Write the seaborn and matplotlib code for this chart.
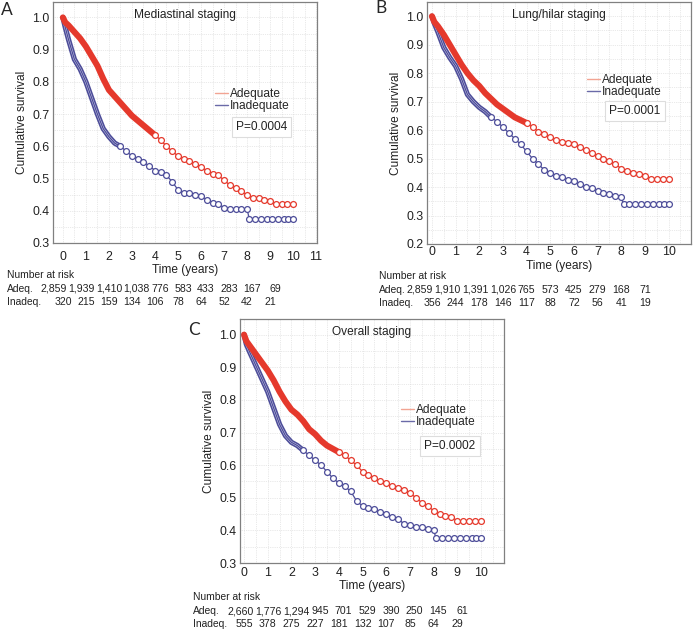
"""
Kaplan-Meier survival by adequacy of staging (mediastinal, lung/hilar, overall).
Values read off the published figure.
"""

import pandas as pd
import matplotlib
matplotlib.use('Agg')
import matplotlib.pyplot as plt
import matplotlib.transforms as mtransforms
from matplotlib.lines import Line2D
from matplotlib.ticker import MultipleLocator, FormatStrFormatter
import seaborn as sns

# --- data -----------------------------------------------------------------
TIME_ADEQ = [0, 0.1, 0.25, 0.5, 0.75, 1.0, 1.25, 1.5, 1.75, 2.0, 2.25, 2.5, 2.75,
             3.0, 3.25, 3.5, 3.75, 4.0, 4.25, 4.5, 4.75, 5.0, 5.25, 5.5, 5.75,
             6.0, 6.25, 6.5, 6.75, 7.0, 7.25, 7.5, 7.75, 8.0, 8.25, 8.5, 8.75,
             9.0, 9.25, 9.5, 9.75, 10.0]
TIME_INADEQ = [0, 0.1, 0.25, 0.5, 0.75, 1.0, 1.25, 1.5, 1.75, 2.0, 2.25, 2.5, 2.75,
               3.0, 3.25, 3.5, 3.75, 4.0, 4.25, 4.5, 4.75, 5.0, 5.25, 5.5, 5.75,
               6.0, 6.25, 6.5, 6.75, 7.0, 7.25, 7.5, 7.75, 8.0,
               8.1, 8.35, 8.6, 8.85, 9.1, 9.35, 9.6, 9.8, 10.0]

MED_ADEQ = [1.0, 0.985, 0.975, 0.955, 0.935, 0.91, 0.88, 0.85, 0.81, 0.775, 0.755,
            0.735, 0.715, 0.695, 0.68, 0.665, 0.65, 0.635, 0.62, 0.60, 0.585, 0.57,
            0.56, 0.555, 0.545, 0.535, 0.525, 0.515, 0.51, 0.495, 0.48, 0.47, 0.46,
            0.45, 0.44, 0.44, 0.435, 0.43, 0.42, 0.42, 0.42, 0.42]
MED_INADEQ = [1.0, 0.97, 0.93, 0.87, 0.84, 0.80, 0.75, 0.70, 0.655, 0.63, 0.61, 0.60,
              0.585, 0.57, 0.56, 0.55, 0.54, 0.525, 0.52, 0.51, 0.49, 0.465, 0.455,
              0.455, 0.45, 0.445, 0.435, 0.425, 0.42, 0.41, 0.405, 0.405, 0.405, 0.405,
              0.375, 0.375, 0.375, 0.375, 0.375, 0.375, 0.375, 0.375, 0.375]

LUNG_ADEQ = [1.0, 0.98, 0.965, 0.935, 0.90, 0.865, 0.83, 0.80, 0.775, 0.755, 0.73,
             0.71, 0.69, 0.675, 0.66, 0.645, 0.635, 0.625, 0.61, 0.595, 0.585, 0.575,
             0.565, 0.56, 0.555, 0.55, 0.54, 0.53, 0.52, 0.51, 0.50, 0.49, 0.48,
             0.465, 0.455, 0.45, 0.445, 0.44, 0.43, 0.43, 0.43, 0.43]
LUNG_INADEQ = [1.0, 0.975, 0.945, 0.89, 0.855, 0.825, 0.78, 0.725, 0.70, 0.68, 0.665,
               0.645, 0.63, 0.61, 0.59, 0.57, 0.55, 0.525, 0.50, 0.48, 0.46, 0.45,
               0.44, 0.435, 0.425, 0.42, 0.41, 0.40, 0.395, 0.385, 0.38, 0.375, 0.37,
               0.365, 0.34, 0.34, 0.34, 0.34, 0.34, 0.34, 0.34, 0.34, 0.34]

ALL_ADEQ = [1.0, 0.98, 0.965, 0.94, 0.915, 0.89, 0.86, 0.825, 0.795, 0.77, 0.755,
            0.735, 0.71, 0.695, 0.675, 0.66, 0.65, 0.64, 0.63, 0.615, 0.60, 0.58,
            0.57, 0.56, 0.55, 0.545, 0.535, 0.53, 0.525, 0.515, 0.50, 0.485, 0.475,
            0.46, 0.45, 0.445, 0.44, 0.43, 0.43, 0.43, 0.43, 0.43]
ALL_INADEQ = [1.0, 0.97, 0.945, 0.905, 0.865, 0.825, 0.775, 0.725, 0.69, 0.67, 0.66,
              0.645, 0.63, 0.615, 0.60, 0.58, 0.56, 0.545, 0.535, 0.52, 0.49, 0.475,
              0.47, 0.465, 0.455, 0.45, 0.44, 0.435, 0.42, 0.415, 0.41, 0.41, 0.405,
              0.40, 0.377, 0.377, 0.377, 0.377, 0.377, 0.377, 0.377, 0.377, 0.377]

# number at risk at years 0..9
MED_RISK_ADEQ = [2859, 1939, 1410, 1038, 776, 583, 433, 283, 167, 69]
MED_RISK_INADEQ = [320, 215, 159, 134, 106, 78, 64, 52, 42, 21]
LUNG_RISK_ADEQ = [2859, 1910, 1391, 1026, 765, 573, 425, 279, 168, 71]
LUNG_RISK_INADEQ = [356, 244, 178, 146, 117, 88, 72, 56, 41, 19]
ALL_RISK_ADEQ = [2660, 1776, 1294, 945, 701, 529, 390, 250, 145, 61]
ALL_RISK_INADEQ = [555, 378, 275, 227, 181, 132, 107, 85, 64, 29]

TITLES = ['Mediastinal staging', 'Lung/hilar staging', 'Overall staging']
P_VALUES = ['P=0.0004', 'P=0.0001', 'P=0.0002']
LETTERS = ['A', 'B', 'C']

RED = '#e5392c'
BLUE = '#4d4d99'
FONT = ['Liberation Sans', 'DejaVu Sans']
W, H = 697, 630
FS = 8.6


def draw_curve(ax, times, surv, color, band_until, inner=None, band_lw=4.4):
    df = pd.DataFrame({'t': times, 's': surv})
    band = df[df['t'] <= band_until]
    # dense censoring marks in the early part look like one thick band
    sns.lineplot(data=band, x='t', y='s', ax=ax, color=color, lw=band_lw,
                 estimator=None, sort=False, solid_capstyle='round')
    if inner is not None:
        sns.lineplot(data=band, x='t', y='s', ax=ax, color=inner, lw=1.5,
                     estimator=None, sort=False)
    show = [t >= band_until for t in df['t']]
    sns.lineplot(data=df, x='t', y='s', ax=ax, color=color, lw=0.9,
                 estimator=None, sort=False, marker='o', markersize=4.2,
                 markerfacecolor='white', markeredgecolor=color,
                 markeredgewidth=0.9, markevery=show)


def risk_row(fig, ax, y_px, values, shift, renderer):
    trans = mtransforms.blended_transform_factory(ax.transData, fig.transFigure)
    y = 1 - y_px / H
    texts = [fig.text(i + shift, y, f'{v:,}', transform=trans, ha='center',
                      va='center', fontsize=7.6, color='#222222')
             for i, v in enumerate(values)]
    widths = [t.get_window_extent(renderer).width for t in texts]
    centers = [ax.transData.transform((i + shift, 0))[0] for i in range(len(values))]
    # push wide numbers to the left so they don't run into each other
    for i in range(len(values) - 2, -1, -1):
        limit = centers[i + 1] - (widths[i] + widths[i + 1]) / 2 - 1.3
        centers[i] = min(centers[i], limit)
    inv = ax.transData.inverted()
    for t, c in zip(texts, centers):
        t.set_x(inv.transform((c, 0))[0])


sns.set_style('white')
plt.rcParams['font.family'] = FONT

fig = plt.figure(figsize=(W / 100, H / 100), dpi=100)
renderer = fig.canvas.get_renderer()

# axes boxes in pixels: left, top, right, bottom
boxes = [(53, 2, 317, 243), (427, 2, 691, 244), (240, 319, 504, 563)]
ylims = [(0.3, 1.048), (0.2, 1.05), (0.3, 1.048)]
xlims = [(-0.43, 11.04), (-0.21, 10.95), (-0.17, 10.97)]
curves = [(MED_ADEQ, MED_INADEQ), (LUNG_ADEQ, LUNG_INADEQ), (ALL_ADEQ, ALL_INADEQ)]
risks = [(MED_RISK_ADEQ, MED_RISK_INADEQ), (LUNG_RISK_ADEQ, LUNG_RISK_INADEQ),
         (ALL_RISK_ADEQ, ALL_RISK_INADEQ)]
tick_pads = [5.5, 1.5, 3.0]
xlabel_pads = [1.0, 1.5, 0.5]
legend_anchor = [(0.615, 0.593), (0.605, 0.653), (0.61, 0.602)]
pbox_pos = [(0.79, 0.481), (0.788, 0.55), (0.795, 0.48)]
title_y = [0.946, 0.946, 0.946]
table_xy = [(7, 275), (379, 276), (193, 597)]
adeq_shift = [0.22, 0.0, 0.2]
letter_xy = [(7, 10), (381, 8), (194, 330)]

for k in range(3):
    l, t, r, b = boxes[k]
    ax = fig.add_axes([l / W, 1 - b / H, (r - l) / W, (b - t) / H])
    adeq, inadeq = curves[k]
    draw_curve(ax, TIME_INADEQ, inadeq, BLUE, 2.5, inner='#d2d2ec', band_lw=3.8)
    draw_curve(ax, TIME_ADEQ, adeq, RED, 4.0)

    ax.set_xlim(*xlims[k])
    ax.set_ylim(*ylims[k])
    ax.xaxis.set_major_locator(MultipleLocator(1))
    ax.xaxis.set_minor_locator(MultipleLocator(0.5))
    ax.yaxis.set_major_locator(MultipleLocator(0.1))
    ax.yaxis.set_minor_locator(MultipleLocator(0.05))
    ax.yaxis.set_major_formatter(FormatStrFormatter('%.1f'))
    ax.grid(which='both', color='#d4d4d4', lw=0.5, ls=':')
    ax.set_axisbelow(True)
    ax.tick_params(which='both', direction='in', color='#888888', labelsize=8.9,
                   labelcolor='#222222')
    ax.tick_params(which='major', length=3)
    ax.tick_params(which='minor', length=1.8)
    ax.tick_params(axis='x', pad=tick_pads[k])
    ax.tick_params(axis='y', pad=2.5)
    for sp in ax.spines.values():
        sp.set_color('#808080')
        sp.set_linewidth(0.9)

    ax.set_xlabel('Time (years)', fontsize=FS, labelpad=xlabel_pads[k], color='#222222')
    ax.set_ylabel('Cumulative survival', fontsize=FS, labelpad=3, color='#222222')
    ax.text(0.5, title_y[k], TITLES[k], transform=ax.transAxes, ha='center',
            va='center', fontsize=FS, color='#222222')

    handles = [Line2D([], [], color='#f2a493', lw=1.0),
               Line2D([], [], color='#6a6aa8', lw=1.0)]
    ax.legend(handles, ['Adequate', 'Inadequate'], loc='center left',
              bbox_to_anchor=legend_anchor[k], frameon=False, fontsize=FS,
              handlelength=1.1, handletextpad=0.15, labelspacing=0.0,
              borderpad=0, borderaxespad=0)
    ax.text(*pbox_pos[k], P_VALUES[k], transform=ax.transAxes, ha='center',
            va='center', fontsize=FS, color='#222222',
            bbox=dict(boxstyle='square,pad=0.35', fc='white', ec='#dddddd', lw=0.8))

    # number at risk table
    tx, ty = table_xy[k]
    for dy, label in [(0, 'Number at risk'), (14, 'Adeq.'), (27, 'Inadeq.')]:
        fig.text(tx / W, 1 - (ty + dy) / H, label, fontsize=7.4, va='center',
                 color='#222222')
    risk_row(fig, ax, ty + 14, risks[k][0], adeq_shift[k], renderer)
    risk_row(fig, ax, ty + 27, risks[k][1], 0.0, renderer)

    lx, ly = letter_xy[k]
    fig.text(lx / W, 1 - ly / H, LETTERS[k], fontsize=12.5, ha='center', va='center',
             family=['Lato', 'DejaVu Sans'])

plt.savefig('out.png', dpi=100)
plt.close()
